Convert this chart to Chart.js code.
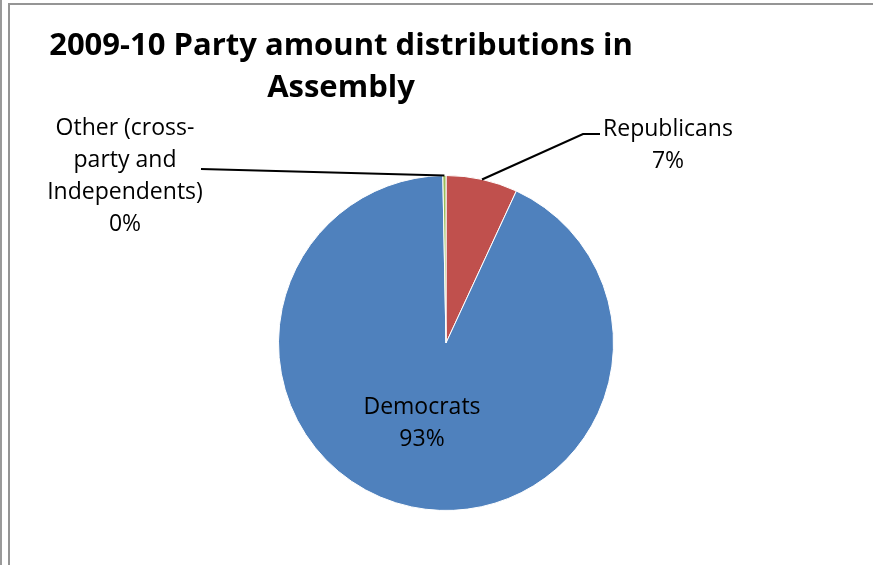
<!DOCTYPE html>
<html>
<head>
<meta charset="utf-8">
<title>2009-10 Party amount distributions in Assembly</title>
<script src="https://cdn.jsdelivr.net/npm/chart.js@4.4.0/dist/chart.umd.min.js"></script>
<style>
    html, body { margin: 0; padding: 0; background: #fff; }
    #wrap { position: relative; width: 873px; height: 565px; overflow: hidden; }
    #chart { position: absolute; left: 0; top: 0; }
    /* outer sheet edge and the chart box frame */
    .edge { position: absolute; left: 0; top: 0; width: 2px; height: 565px; background: #9a9a9a; }
    .frame { position: absolute; left: 8px; top: 3px; width: 900px; height: 600px;
             border-left: 2px solid #959595; border-top: 2px solid #959595; }
</style>
</head>
<body>
<div id="wrap">
    <canvas id="chart" width="873" height="565"></canvas>
    <div class="edge"></div>
    <div class="frame"></div>
</div>
<script>
const parties = ["Republicans", "Democrats", "Other (cross-party and Independents)"];
const amounts = [6.9, 92.8, 0.3];
const sliceColors = ["#C0504D", "#4F81BD", "#9BBB59"];
const titleLines = ["2009-10 Party amount distributions in", "Assembly"];

// label text lines per slice (party name wrapped like the original)
const labelLines = [
    ["Republicans"],
    ["Democrats"],
    ["Other (cross-", "party and", "Independents)"]
];

const FONT = "'Open Sans', Calibri, sans-serif";

// where each data label sits, and where its leader line ends
const labelPlacement = [
    { x: 668, y: 136, leader: [[600, 134], [583, 134]] },
    { x: 422, y: 414, leader: null },
    { x: 125, y: 135, leader: [[201, 169]] }
];

const titlePlugin = {
    id: "sheetTitle",
    afterDraw(chart) {
        const c = chart.ctx;
        c.save();
        c.fillStyle = "#000";
        c.font = "bold 31px " + FONT;
        c.textAlign = "center";
        c.textBaseline = "alphabetic";
        c.fillText(titleLines[0], 341, 55);
        c.fillText(titleLines[1], 341, 97);
        c.restore();
    }
};

const pieLabels = {
    id: "pieLabels",
    afterDatasetsDraw(chart) {
        const c = chart.ctx;
        const meta = chart.getDatasetMeta(0);
        const values = chart.data.datasets[0].data;
        const total = values.reduce((s, v) => s + v, 0);
        c.save();
        meta.data.forEach((arc, i) => {
            const p = labelPlacement[i];
            const mid = (arc.startAngle + arc.endAngle) / 2;
            const ex = arc.x + Math.cos(mid) * arc.outerRadius;
            const ey = arc.y + Math.sin(mid) * arc.outerRadius;
            if (p.leader) {
                c.strokeStyle = "#000";
                c.lineWidth = 2.2;
                c.beginPath();
                c.moveTo(p.leader[0][0], p.leader[0][1]);
                p.leader.slice(1).forEach(pt => c.lineTo(pt[0], pt[1]));
                c.lineTo(ex, ey);
                c.stroke();
            }
            const pct = Math.round(values[i] / total * 100) + "%";
            const lines = labelLines[i].concat([pct]);
            c.fillStyle = "#000";
            c.font = "23px " + FONT;
            c.textAlign = "center";
            c.textBaseline = "alphabetic";
            lines.forEach((t, k) => c.fillText(t, p.x, p.y + k * 32));
        });
        c.restore();
    }
};

new Chart(document.getElementById("chart"), {
    type: "pie",
    data: {
        labels: parties,
        datasets: [{
            data: amounts,
            backgroundColor: sliceColors,
            borderColor: "#ffffff",
            borderWidth: 1
        }]
    },
    options: {
        responsive: false,
        animation: false,
        devicePixelRatio: 1,
        layout: { padding: { left: 278, right: 259, top: 175, bottom: 54 } },
        plugins: {
            legend: { display: false },
            tooltip: { enabled: false },
            title: { display: false }
        }
    },
    plugins: [pieLabels, titlePlugin]
});
</script>
</body>
</html>
